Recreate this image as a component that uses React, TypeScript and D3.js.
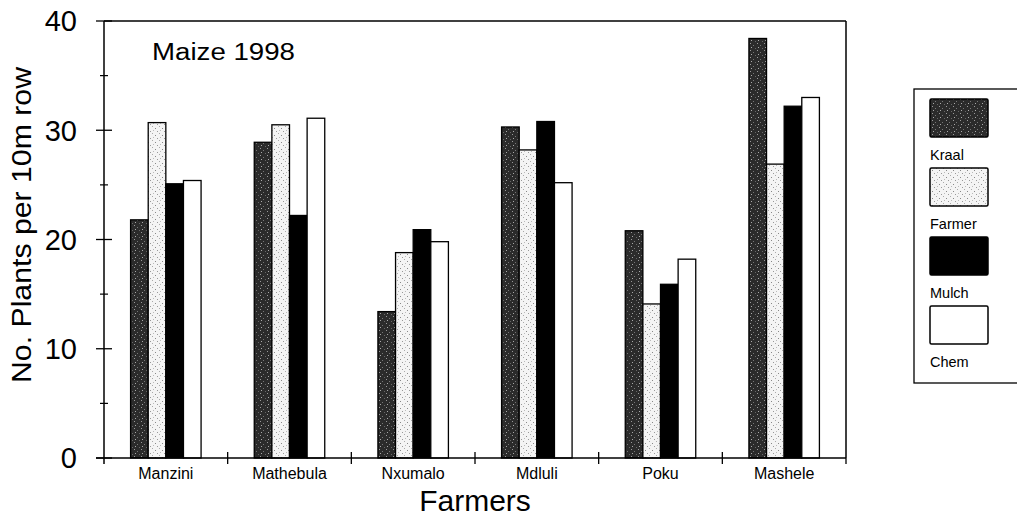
import React from "react";
import * as d3 from "d3";

const farmers = ["Manzini", "Mathebula", "Nxumalo", "Mdluli", "Poku", "Mashele"];
const treatments = ["Kraal", "Farmer", "Mulch", "Chem"];
const kraal = [21.8, 28.9, 13.4, 30.3, 20.8, 38.4];
const farmer = [30.7, 30.5, 18.8, 28.2, 14.1, 26.9];
const mulch = [25.1, 22.2, 20.9, 30.8, 15.9, 32.2];
const chem = [25.4, 31.1, 19.8, 25.2, 18.2, 33.0];
const yTicks = [0, 10, 20, 30, 40];
const yMinor = [5, 15, 25, 35];

const seriesValues = [kraal, farmer, mulch, chem];
const fills = ["url(#kraalPat)", "url(#farmerPat)", "#000", "#fff"];

const W = 1017;
const H = 520;
const left = 104;
const right = 846;
const top = 21;
const bottom = 458;
const font = "Arial, 'Liberation Sans', Helvetica, sans-serif";

export default function App() {
  const x0 = d3.scaleBand<string>().domain(farmers).range([left, right]).padding(0);
  const bw = x0.bandwidth();
  const groupW = bw * 0.57;
  const x1 = d3.scaleBand<string>().domain(treatments).range([0, groupW]).padding(0);
  const y = d3.scaleLinear().domain([0, 40]).range([bottom, top]);

  const legendRows = treatments.map((t, i) => ({ t, i }));

  return (
    <svg
      width={W}
      height={H}
      style={{ position: "absolute", left: 0, top: 0, background: "#fff" }}
      fontFamily={font}
    >
      <defs>
        <pattern id="kraalPat" width="7" height="7" patternUnits="userSpaceOnUse">
          <rect width="7" height="7" fill="#2b2b2b" />
          <rect x="1" y="1" width="1" height="1" fill="#999" />
          <rect x="4" y="3" width="1" height="1" fill="#777" />
          <rect x="2" y="5" width="1" height="1" fill="#aaa" />
          <rect x="6" y="6" width="1" height="1" fill="#666" />
        </pattern>
        <pattern id="farmerPat" width="7" height="7" patternUnits="userSpaceOnUse">
          <rect width="7" height="7" fill="#f4f4f4" />
          <rect x="1" y="2" width="1" height="1" fill="#888" />
          <rect x="5" y="0" width="1" height="1" fill="#aaa" />
          <rect x="3" y="5" width="1" height="1" fill="#999" />
          <rect x="6" y="4" width="1" height="1" fill="#bbb" />
        </pattern>
      </defs>
      <rect width={W} height={H} fill="#fff" />

      {/* bars */}
      {farmers.map((f, fi) => {
        const gx = (x0(f) as number) + (bw - groupW) / 2;
        return (
          <g key={f}>
            {treatments.map((t, ti) => {
              const v = seriesValues[ti][fi];
              return (
                <rect
                  key={t}
                  x={gx + (x1(t) as number)}
                  y={y(v)}
                  width={x1.bandwidth()}
                  height={y(0) - y(v)}
                  fill={fills[ti]}
                  stroke="#000"
                  strokeWidth={1.3}
                />
              );
            })}
          </g>
        );
      })}

      {/* frame */}
      <line x1={left} x2={right} y1={top} y2={top} stroke="#000" strokeWidth={1.5} />
      <line x1={right} x2={right} y1={top} y2={bottom} stroke="#000" strokeWidth={1.5} />
      <line x1={left} x2={left} y1={top} y2={bottom + 6} stroke="#000" strokeWidth={1.5} />
      <line x1={left - 8} x2={right} y1={bottom} y2={bottom} stroke="#000" strokeWidth={1.5} />

      {/* y ticks */}
      {yTicks.map((t) => (
        <g key={t}>
          <line x1={left - 8} x2={left + 8} y1={y(t)} y2={y(t)} stroke="#000" strokeWidth={1.3} />
          <text x={77} y={y(t)} dy="0.36em" textAnchor="end" fontSize={29}>
            {t}
          </text>
        </g>
      ))}
      {yMinor.map((t) => (
        <line key={t} x1={left - 4} x2={left + 4} y1={y(t)} y2={y(t)} stroke="#000" strokeWidth={1.2} />
      ))}

      {/* x ticks */}
      {farmers.slice(1).map((f) => (
        <line
          key={f}
          x1={x0(f) as number}
          x2={x0(f) as number}
          y1={bottom - 6}
          y2={bottom + 6}
          stroke="#000"
          strokeWidth={1.3}
        />
      ))}
      <line x1={right} x2={right} y1={bottom} y2={bottom + 6} stroke="#000" strokeWidth={1.3} />

      {/* x labels */}
      {farmers.map((f) => (
        <text key={f} x={(x0(f) as number) + bw / 2} y={479} textAnchor="middle" fontSize={16}>
          {f}
        </text>
      ))}

      {/* axis titles */}
      <text x={(left + right) / 2} y={511} textAnchor="middle" fontSize={30}>
        Farmers
      </text>
      <text
        transform={`translate(31, 225) rotate(-90)`}
        textAnchor="middle"
        fontSize={27}
        textLength={316}
        lengthAdjust="spacingAndGlyphs"
      >
        No. Plants per 10m row
      </text>
      <text x={152} y={60} fontSize={23} textLength={143} lengthAdjust="spacingAndGlyphs">
        Maize 1998
      </text>

      {/* legend */}
      <rect x={914} y={89} width={130} height={294} fill="#fff" stroke="#000" strokeWidth={1.3} />
      {legendRows.map(({ t, i }) => (
        <g key={t}>
          <rect
            x={930}
            y={99 + i * 69}
            width={58}
            height={38}
            fill={fills[i]}
            stroke="#000"
            strokeWidth={1.5}
            rx={1.5}
          />
          <text x={930} y={160 + i * 69} fontSize={14.5}>
            {t}
          </text>
        </g>
      ))}
    </svg>
  );
}
